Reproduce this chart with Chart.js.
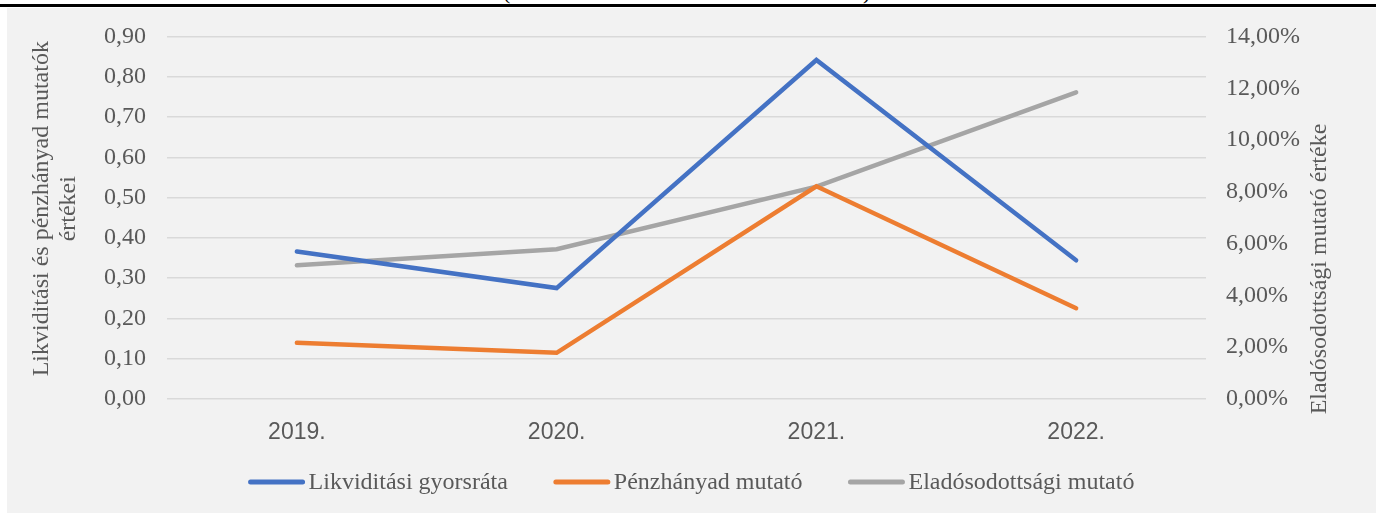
<!DOCTYPE html>
<html>
<head>
<meta charset="utf-8">
<script src="https://cdn.jsdelivr.net/npm/chart.js@4.4.0/dist/chart.umd.min.js"></script>
<style>
  html, body { margin: 0; padding: 0; background: #fff; }
  #wrap { position: relative; width: 1376px; height: 513px; overflow: hidden; }
  #frame { position: absolute; left: 7px; top: 8px; right: 0; bottom: 0; background: #f2f2f2; }
  #rule { position: absolute; left: 0; right: 0; top: 4px; height: 3px; background: #000; }
  #cut { position: absolute; left: 0; right: 0; top: 0; height: 4px; overflow: hidden; }
  #cut span { position: absolute; top: -21px; font: 22px 'Liberation Serif', serif; color: #000; }
  canvas { position: absolute; left: 0; top: 0; }
</style>
</head>
<body>
<div id="wrap">
  <div id="frame"></div>
  <div id="cut"><span style="left:503px">(</span><span style="left:863px">)</span></div>
  <div id="rule"></div>
  <canvas id="c" width="1376" height="513"></canvas>
</div>
<script>
// adatok
const evek = ['2019.', '2020.', '2021.', '2022.'];
const likviditasi = [0.366, 0.275, 0.842, 0.344];
const penzhanyad = [0.139, 0.114, 0.528, 0.225];
const eladosodottsagi = [5.16, 5.78, 8.20, 11.85]; // %

const nevek = ['Likviditási gyorsráta', 'Pénzhányad mutató', 'Eladósodottsági mutató'];
const szinek = ['#4472C4', '#ED7D31', '#A5A5A5'];
const balCim = ['Likviditási és pénzhányad mutatók', 'értékei'];
const jobbCim = 'Eladósodottsági mutató értéke';

const SZURKE = '#595959';
const SERIF = "'Liberation Serif', 'Times New Roman', serif";

const vesszo = v => v.toFixed(2).replace('.', ',');

// tengelycimek + jelmagyarazat kezzel
const sajat = {
    id: 'sajat',
    afterDraw(chart) {
        const ctx = chart.ctx;
        const a = chart.chartArea;
        ctx.save();
        ctx.fillStyle = SZURKE;
        ctx.font = `24px ${SERIF}`;
        ctx.textAlign = 'center';
        ctx.textBaseline = 'middle';

        const my = (a.top + a.bottom) / 2 - 9;
        ctx.save(); ctx.translate(42, my); ctx.rotate(-Math.PI / 2); ctx.fillText(balCim[0], 0, 0); ctx.restore();
        ctx.save(); ctx.translate(69, my); ctx.rotate(-Math.PI / 2); ctx.fillText(balCim[1], 0, 0); ctx.restore();
        ctx.save(); ctx.translate(1320, 269); ctx.rotate(-Math.PI / 2); ctx.fillText(jobbCim, 0, 0); ctx.restore();

        // legend
        const vonal = 56, res = 4, kozt = 46, ly = 482;
        const szel = nevek.map(n => ctx.measureText(n).width);
        const ossz = szel.reduce((s, w) => s + w + vonal + res, 0) + kozt * (nevek.length - 1);
        let x = (chart.width + 7) / 2 - ossz / 2;
        ctx.textAlign = 'left';
        nevek.forEach((n, i) => {
            ctx.strokeStyle = szinek[i]; ctx.lineWidth = 5; ctx.lineCap = 'round';
            ctx.beginPath(); ctx.moveTo(x + 2, ly); ctx.lineTo(x + vonal - 2, ly); ctx.stroke();
            ctx.fillText(n, x + vonal + res, ly + 1);
            x += vonal + res + szel[i] + kozt;
        });
        ctx.restore();
    }
};

const ds = (i, data, axis) => ({
    label: nevek[i], data, yAxisID: axis,
    borderColor: szinek[i], backgroundColor: szinek[i],
    borderWidth: 4.5, borderCapStyle: 'round', pointRadius: 0, tension: 0
});

new Chart(document.getElementById('c'), {
    type: 'line',
    data: {
        labels: evek,
        datasets: [ds(0, likviditasi, 'y'), ds(1, penzhanyad, 'y'), ds(2, eladosodottsagi, 'y2')]
    },
    options: {
        responsive: false,
        animation: false,
        devicePixelRatio: 1,
        layout: { padding: { top: 36.7, left: 0, right: 0, bottom: 0 } },
        plugins: { legend: { display: false }, tooltip: { enabled: false } },
        scales: {
            x: {
                offset: true,
                grid: { display: false },
                border: { display: false },
                ticks: { color: SZURKE, padding: 12, font: { family: "'Liberation Sans Narrow', 'Arial Narrow', sans-serif", size: 23 } },
                afterFit: s => { s.height = 114.3; }
            },
            y: {
                position: 'left', min: 0, max: 0.9,
                grid: { color: '#d9d9d9', lineWidth: 1.4, drawTicks: false },
                border: { display: false },
                ticks: { stepSize: 0.1, padding: 21, color: SZURKE, font: { family: SERIF, size: 24 }, callback: v => vesszo(v) },
                afterFit: s => { s.width = 167; }
            },
            y2: {
                position: 'right', min: 0, max: 14,
                grid: { display: false, drawTicks: false },
                border: { display: false },
                ticks: { stepSize: 2, padding: 20, color: SZURKE, font: { family: SERIF, size: 24 }, callback: v => vesszo(v) + '%' },
                afterFit: s => { s.width = 170; }
            }
        }
    },
    plugins: [sajat]
});
</script>
</body>
</html>
